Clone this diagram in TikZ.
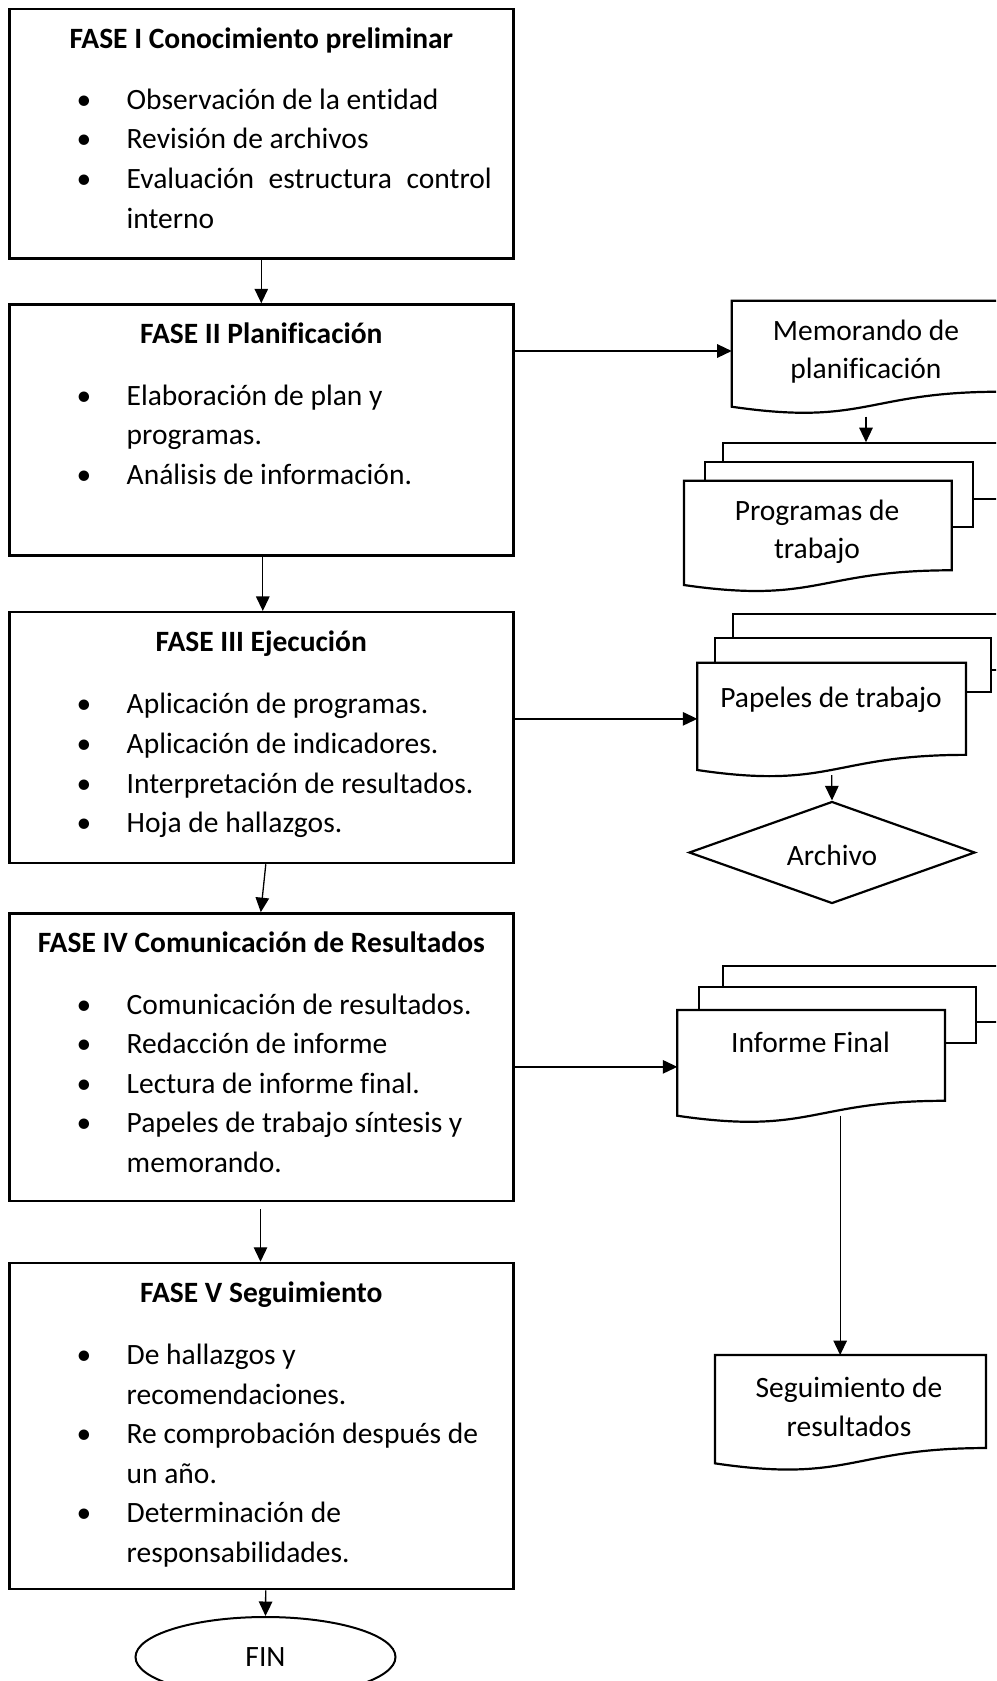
\documentclass[tikz,border=0pt]{standalone}
\usepackage{fontspec}
\setmainfont[Ligatures={NoCommon}]{Carlito}
\usetikzlibrary{arrows.meta,shapes.geometric}
\newcommand\fsz{\fontsize{29.5}{39.6}\selectfont}
\newcommand\flowdocpath[4]{%
  \draw[docline] (#1,#2) -- ({#1+#3},#2) -- ({#1+#3},{#2+0.802*#4})
    .. controls ({#1+0.5*#3},{#2+0.802*#4}) and ({#1+0.5*#3},{#2+1.1075*#4}) .. (#1,{#2+0.934*#4}) -- cycle;}
\tikzset{
  phase/.style={draw,line width=2.5pt,minimum width=504pt,inner sep=0pt},
  arr/.style={line width=1.3pt,-{Triangle[length=14.5pt,width=13.5pt]}},
  ttl/.style={font=\fsz\bfseries,anchor=base,inner sep=0pt},
  itm/.style={font=\fsz,anchor=base west,inner sep=0pt},
  bul/.style={font=\fsz,anchor=base,inner sep=0pt},
  dtxt/.style={font=\fsz,anchor=base,inner sep=0pt},
  docline/.style={line width=2.2pt,fill=white},
  sheet/.style={draw,line width=2.2pt,fill=white,inner sep=0pt},
  hold/.style={inner sep=0pt,outer sep=0pt},
}
\begin{document}
\begin{tikzpicture}[x=1pt,y=-1pt]
\useasboundingbox (0,0) rectangle (996,1681);
\clip (0,0) rectangle (996,1681);

% ---------- left phase boxes ----------
\node[phase,minimum height=249.4pt] (b1) at (261.3,133.7) {};
\node[phase,minimum height=250.8pt] (b2) at (261.3,429.9) {};
\node[phase,minimum height=250.8pt] (b3) at (261.3,737.6) {};
\node[phase,minimum height=287.4pt] (b4) at (261.3,1057.1) {};
\node[phase,minimum height=326pt]   (b5) at (261.3,1426) {};

% box 1
\node[ttl] (t1) at (261.3,48) {FASE I Conocimiento preliminar};
\node[bul] (d11) at (84,109.2) {•};
\node[itm] (i11) at (126.5,109.2) {Observación de la entidad};
\node[bul] (d12) at (84,148.8) {•};
\node[itm] (i12) at (126.5,148.8) {Revisión de archivos};
\node[bul] (d13) at (84,188.4) {•};
\node[itm] (i13) at (126.5,188.4) {\makebox[365pt][s]{Evaluación estructura control}};
\node[itm] (i14) at (126.5,228.0) {interno};

% box 2
\node[ttl] (t2) at (261.3,343) {FASE II Planificación};
\node[bul] (d21) at (84,405.1) {•};
\node[itm] (i21) at (126.5,405.1) {Elaboración de plan y};
\node[itm] (i22) at (126.5,444.7) {programas.};
\node[bul] (d23) at (84,484.3) {•};
\node[itm] (i23) at (126.5,484.3) {Análisis de información.};

% box 3
\node[ttl] (t3) at (261.3,651.7) {FASE III Ejecución};
\node[bul] (d31) at (84,713.9) {•};
\node[itm] (i31) at (126.5,713.9) {Aplicación de programas.};
\node[bul] (d32) at (84,753.5) {•};
\node[itm] (i32) at (126.5,753.5) {Aplicación de indicadores.};
\node[bul] (d33) at (84,793.1) {•};
\node[itm] (i33) at (126.5,793.1) {Interpretación de resultados.};
\node[bul] (d34) at (84,832.7) {•};
\node[itm] (i34) at (126.5,832.7) {Hoja de hallazgos.};

% box 4
\node[ttl] (t4) at (261.3,952.9) {FASE IV Comunicación de Resultados};
\node[bul] (d41) at (84,1014.1) {•};
\node[itm] (i41) at (126.5,1014.1) {Comunicación de resultados.};
\node[bul] (d42) at (84,1053.7) {•};
\node[itm] (i42) at (126.5,1053.7) {Redacción de informe};
\node[bul] (d43) at (84,1093.3) {•};
\node[itm] (i43) at (126.5,1093.3) {Lectura de informe final.};
\node[bul] (d44) at (84,1132.9) {•};
\node[itm] (i44) at (126.5,1132.9) {Papeles de trabajo síntesis y};
\node[itm] (i45) at (126.5,1172.5) {memorando.};

% box 5
\node[ttl] (t5) at (261.3,1302.5) {FASE V Seguimiento};
\node[bul] (d51) at (84,1364.5) {•};
\node[itm] (i51) at (126.5,1364.5) {De hallazgos y};
\node[itm] (i52) at (126.5,1404.1) {recomendaciones.};
\node[bul] (d53) at (84,1443.7) {•};
\node[itm] (i53) at (126.5,1443.7) {Re comprobación después de};
\node[itm] (i54) at (126.5,1483.3) {un año.};
\node[bul] (d55) at (84,1522.9) {•};
\node[itm] (i55) at (126.5,1522.9) {Determinación de};
\node[itm] (i56) at (126.5,1562.5) {responsabilidades.};

% FIN
\node[draw,ellipse,line width=2pt,minimum width=260pt,minimum height=80pt,inner sep=0pt,font=\fsz] (fin) at (265.5,1657) {FIN};

% ---------- right side documents ----------
% Memorando
\flowdocpath{731.7}{300.7}{268.6}{113.5}
\node[hold,minimum width=268.6pt,minimum height=106pt] (memo) at (866,353.7) {};
\node[dtxt] (memo1) at (866,340.8) {Memorando de};
\node[dtxt] (memo2) at (866,378.3) {planificación};

% Programas (multi document)
\node[sheet,minimum width=287.3pt,minimum height=55.7pt] (progA) at (866.35,471.15) {};
\node[sheet,minimum width=268.3pt,minimum height=65pt] (progB) at (839.15,494.2) {};
\flowdocpath{684}{480.7}{267.7}{111.7}
\node[hold,minimum width=267.7pt,minimum height=104.3pt] (prog) at (817.85,532.85) {};
\node[dtxt] (prog1) at (817,520.9) {Programas de};
\node[dtxt] (prog2) at (817,558.5) {trabajo};

% Papeles (multi document)
\node[sheet,minimum width=277.3pt,minimum height=56pt] (papA) at (871.35,642) {};
\node[sheet,minimum width=276pt,minimum height=54pt] (papB) at (853,664.7) {};
\flowdocpath{697.3}{662.7}{268.7}{114.9}
\node[hold,minimum width=268.7pt,minimum height=107.3pt] (pap) at (831.65,716.35) {};
\node[dtxt] (pap1) at (831,707.5) {Papeles de trabajo};

% Archivo
\node[draw,diamond,line width=2.2pt,minimum width=286pt,minimum height=102pt,shape aspect=2.8,inner sep=0pt] (arch) at (832,852.5) {};
\node[dtxt] (arch1) at (832,865) {Archivo};

% Informe Final (multi document)
\node[sheet,minimum width=286.7pt,minimum height=56pt] (infA) at (866.65,993.7) {};
\node[sheet,minimum width=276.4pt,minimum height=55.4pt] (infB) at (837.5,1015) {};
\flowdocpath{677.3}{1010}{267.7}{113.2}
\node[hold,minimum width=267.7pt,minimum height=105.7pt] (inf) at (811.15,1062.85) {};
\node[dtxt] (inf1) at (810.5,1052.5) {Informe Final};

% Seguimiento de resultados
\flowdocpath{715}{1355}{271}{116}
\node[hold,minimum width=271pt,minimum height=108.3pt] (seg) at (850.5,1409.2) {};
\node[dtxt] (seg1) at (849,1397) {Seguimiento de};
\node[dtxt] (seg2) at (849,1436) {resultados};

% ---------- connectors ----------
\draw[arr] (b1) -- (b2);
\draw[arr] ([xshift=1.5pt]b2.south) -- ([xshift=1.5pt]b3.north);
\draw[arr] ([xshift=4.5pt]b3.south) -- ([xshift=-0.5pt]b4.north);
\draw[arr,shorten <=7pt] ([xshift=-0.8pt]b4.south) -- ([xshift=-0.8pt]b5.north);
\draw[arr] ([xshift=4.4pt]b5.south) -- (fin.north);

\coordinate (memoin) at ([yshift=2.7pt]memo.west);
\draw[arr] (b2.east |- memoin) -- (memoin);
\draw[arr,shorten <=10pt] (memo.south) -- (memo.south |- progA.north);

\coordinate (papin) at ([yshift=-2.5pt]pap.west);
\draw[arr] (b3.east |- papin) -- (papin);
\draw[arr,shorten <=5pt] (pap.south) -- (arch.north);

\coordinate (infin) at ([yshift=-4pt]inf.west);
\draw[arr] (b4.east |- infin) -- (infin);
\draw[arr] ([xshift=29pt]inf.south) -- ([xshift=29pt]inf.south |- seg.north);
\end{tikzpicture}
\end{document}
